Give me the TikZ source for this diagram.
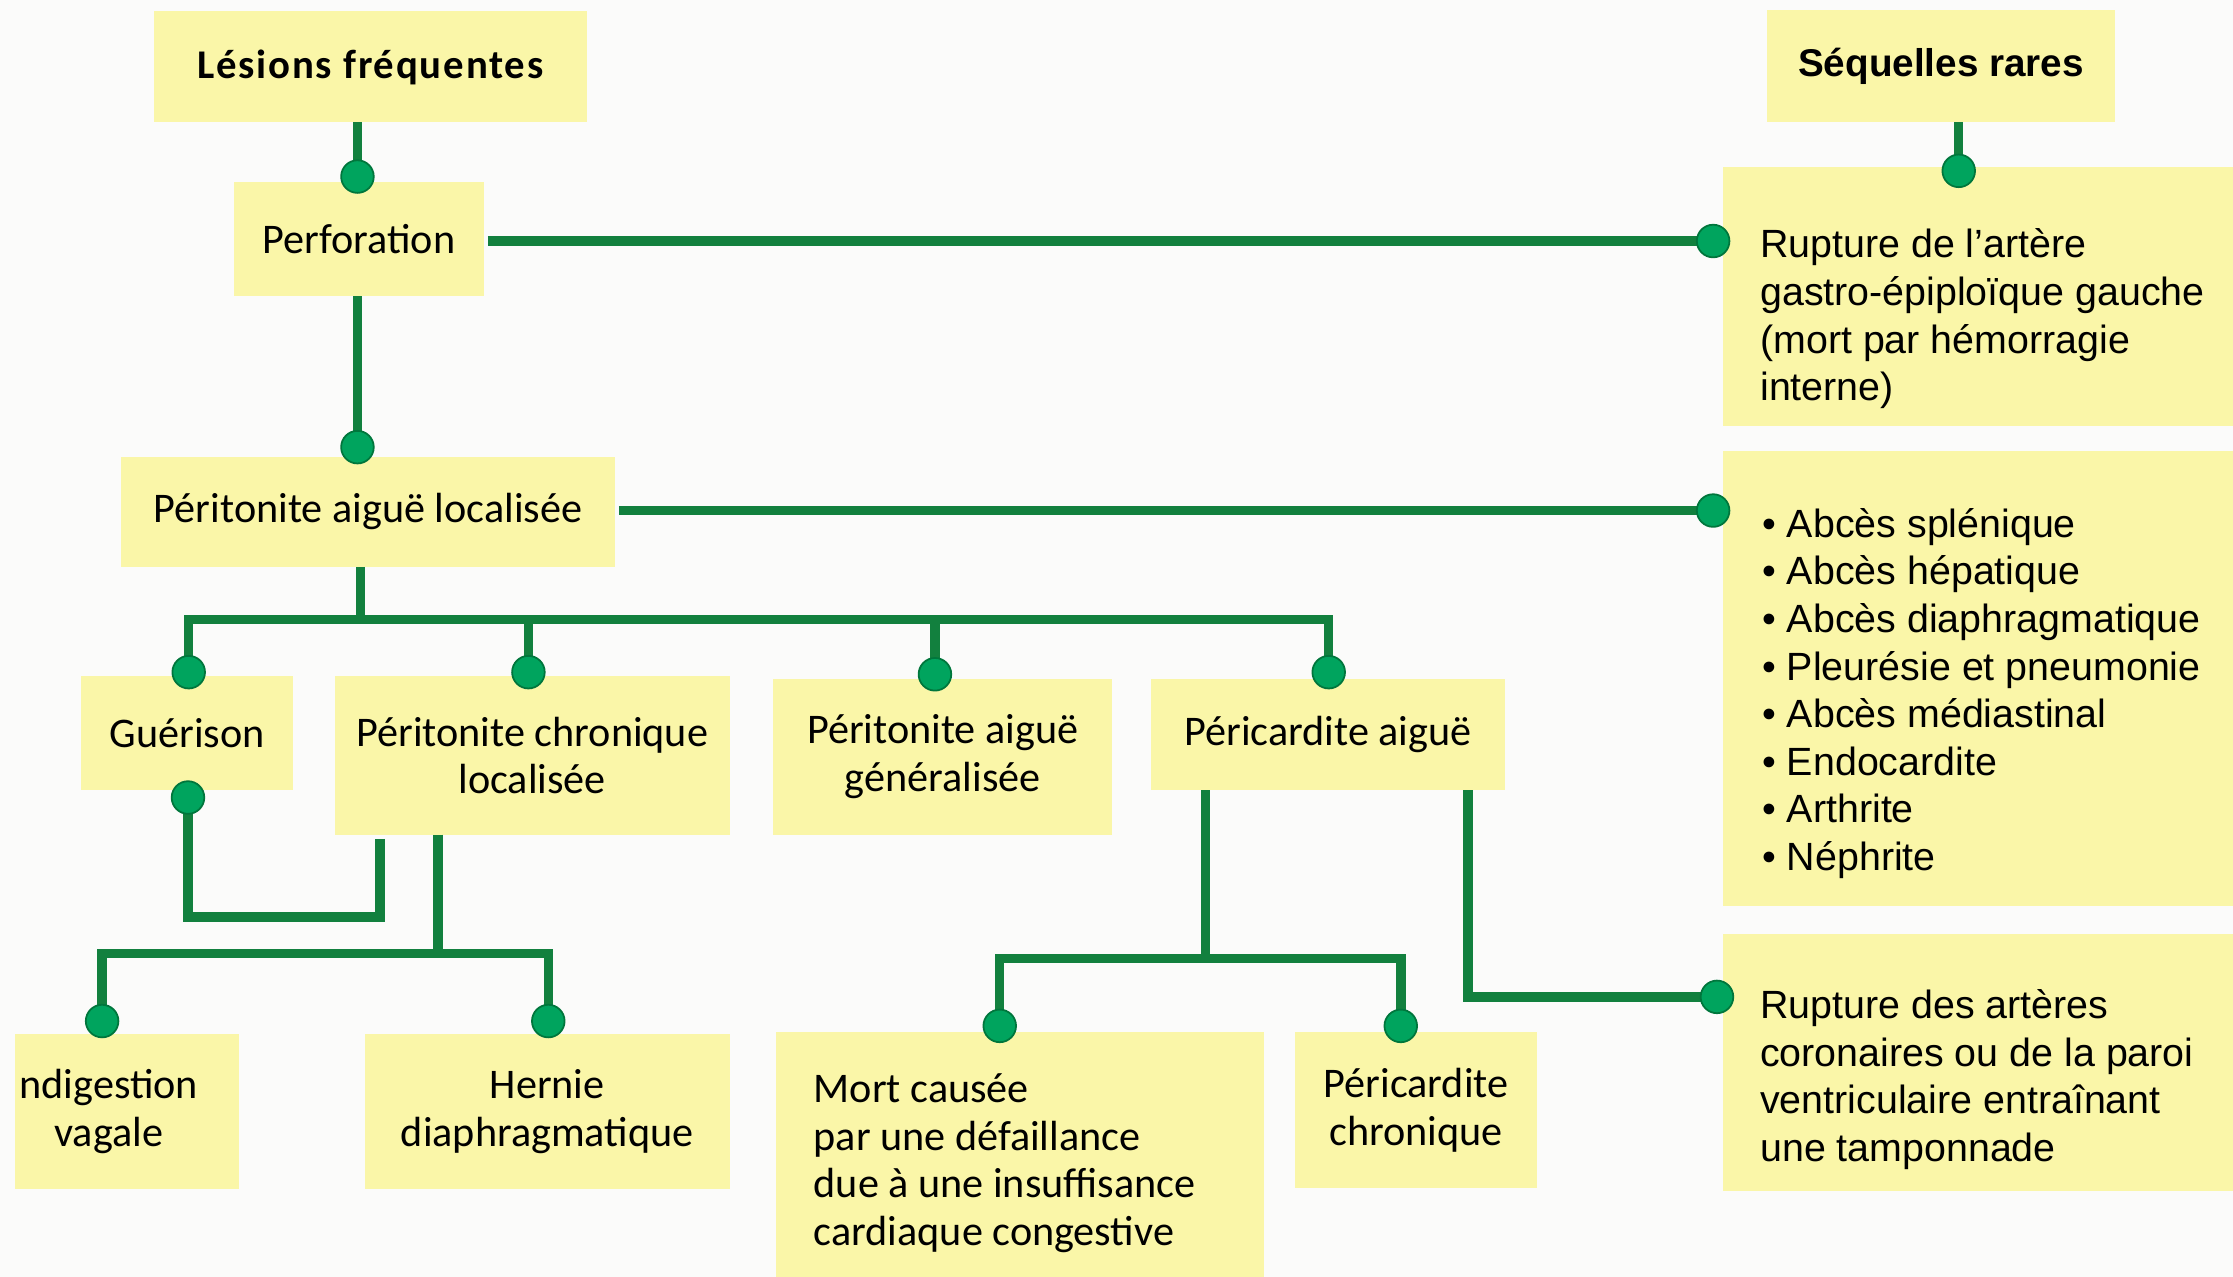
\documentclass[tikz,border=0pt]{standalone}
\usepackage{fontspec}
\setmainfont{Carlito}
\newfontfamily\headf[LetterSpace=4.5]{Carlito}
\newfontfamily\arialf{Liberation Sans}
\usetikzlibrary{calc}
\definecolor{boxy}{RGB}{250,246,168}
\definecolor{lng}{RGB}{18,128,62}
\definecolor{dotg}{RGB}{0,164,94}
\definecolor{dotd}{RGB}{0,118,60}
\definecolor{bgc}{RGB}{251,251,250}
\tikzset{
  bx/.style={fill=boxy, inner sep=0pt, outer sep=0pt},
  lt/.style={font=\fontsize{12}{13.6}\selectfont, align=center, inner sep=0pt},
  lth/.style={font=\headf\bfseries\fontsize{11.6}{13.6}\selectfont, align=center, inner sep=0pt},
  rt/.style={font=\arialf\fontsize{11.2}{13.55}\selectfont, align=left, inner sep=0pt, anchor=west},
  rth/.style={font=\arialf\bfseries\fontsize{11}{13.5}\selectfont, inner sep=0pt},
  ln/.style={draw=lng, line width=0.095cm},
  dt/.style={fill=dotg, draw=dotd, line width=0.5pt},
}
\newcommand\mkbox[5]{\node[bx, minimum width={(#4-#2)*0.4052pt}, minimum height={(#5-#3)*0.4052pt}] (#1) at ({(#2+#4)/2},{(#3+#5)/2}) {};}
\newcommand\dotat[1]{\fill[dt] (#1) circle[radius=0.163cm];}
\begin{document}
\begin{tikzpicture}[x=0.014241cm, y=-0.014241cm]
\fill[bgc] (0,0) rectangle (1568,896.7);
\useasboundingbox (0,0) rectangle (1568,896.7);
% boxes
\mkbox{les}{108}{8}{412}{86}
\mkbox{perf}{164}{127.5}{340}{208}
\mkbox{pal}{85}{321}{432}{398}
\mkbox{gue}{57}{475}{206}{555}
\mkbox{pcl}{235}{475}{512.5}{586}
\mkbox{pag}{543}{476.5}{781}{586}
\mkbox{pca}{808}{476.5}{1057}{555}
\mkbox{ind}{10.8}{726}{168}{835}
\mkbox{her}{256}{726}{512.5}{835}
\mkbox{mor}{545}{724.7}{887.6}{897}
\mkbox{pch}{909.7}{724.7}{1079}{834.5}
\mkbox{seq}{1241}{7}{1485}{86}
\mkbox{ru1}{1209.6}{117.5}{1568}{299.4}
\mkbox{abc}{1209.6}{316.6}{1568}{636.3}
\mkbox{ru2}{1209.6}{656}{1568}{836}
% coordinates
\coordinate (d1) at ($(perf.north)+(-1,-3.5)$);
\coordinate (d2) at ($(ru1.west |- perf.east)+(-6.6,1.5)$);
\coordinate (d3) at ($(perf.south |- pal.north)+(-1,-7)$);
\coordinate (d4) at ($(abc.west |- pal.east)+(-6.6,-1)$);
\coordinate (j1) at ($(pal.south)+(-5.5,37)$);
\coordinate (dg) at ($(gue.north)+(1,-3)$);
\coordinate (dpcl) at ($(pcl.north)+(-2.7,-3)$);
\coordinate (dpag) at ($(pag.north)+(-5.5,-3)$);
\coordinate (dpca) at ($(pca.north)+(0.5,-4.5)$);
\coordinate (dgb) at ($(gue.south)+(0.5,5)$);
\coordinate (k1) at ($(pcl.south west)+(32,3)$);
\coordinate (j2) at ($(pcl.south west)+(72.5,83.5)$);
\coordinate (di) at ($(ind.north)+(-17.7,-9)$);
\coordinate (dh) at ($(her.north)+(0.75,-9)$);
\coordinate (j3) at ($(pca.south west)+(38.5,118)$);
\coordinate (dm) at ($(mor.north)+(-14.3,-4.3)$);
\coordinate (dpc) at ($(pch.north)+(-10.75,-4.3)$);
\coordinate (k2) at ($(pca.south west)+(222.7,0)$);
\coordinate (dr2) at ($(ru2.west)+(-3.9,-46)$);
\coordinate (ks) at ($(seq.south)+(12.4,0)$);
\coordinate (dr1) at ($(ks |- ru1.north)+(0,2.5)$);
% connectors
\draw[ln] (d1 |- les.south) -- (d1);
\draw[ln] ([xshift=1pt]perf.east |- d2) -- (d2);
\draw[ln] (d3 |- perf.south) -- (d3);
\draw[ln] ([xshift=1pt]pal.east |- d4) -- (d4);
\draw[ln] (pal.south -| j1) -- (j1);
\draw[ln] (dg) -- (dg |- j1) -- (dpca |- j1) -- (dpca);
\draw[ln] (dpcl |- j1) -- (dpcl);
\draw[ln] (dpag |- j1) -- (dpag);
\draw[ln] (k1) |- ($(dgb)+(0,84)$) -- (dgb);
\draw[ln] (pcl.south -| j2) -- (j2);
\draw[ln] (di) |- (j2) -| (dh);
\draw[ln] (pca.south -| j3) -- (j3);
\draw[ln] (dm) |- (j3) -| (dpc);
\draw[ln] (k2) |- (dr2);
\draw[ln] (ks) -- (dr1);
% dots
\dotat{d1}\dotat{d2}\dotat{d3}\dotat{d4}
\dotat{dg}\dotat{dpcl}\dotat{dpag}\dotat{dpca}
\dotat{dgb}\dotat{di}\dotat{dh}\dotat{dm}\dotat{dpc}
\dotat{dr2}\dotat{dr1}
% texts
\node[lth] (tles) at (les.center) {Lésions fréquentes};
\node[lt] (tperf) at (perf.center) {Perforation};
\node[lt] (tpal) at (pal.center) {Péritonite aiguë localisée};
\node[lt] (tgue) at (gue.center) {Guérison};
\node[lt] (tpcl) at (pcl.center) {Péritonite chronique\\localisée};
\node[lt] (tpag) at (pag.center) {Péritonite aiguë\\généralisée};
\node[lt] (tpca) at (pca.center) {Péricardite aiguë};
\node[lt] (tind) at ($(ind.center)+(-13,0)$) {ndigestion\\vagale};
\node[lt] (ther) at (her.center) {Hernie\\diaphragmatique};
\node[lt, anchor=west, align=left] (tmor) at ($(mor.west)+(26,6)$) {Mort causée\\par une défaillance\\due à une insuffisance\\cardiaque congestive};
\node[lt] (tpch) at (pch.center) {Péricardite\\chronique};
\node[rth] (tseq) at (seq.center) {Séquelles rares};
\node[rt] (tru1) at ($(ru1.west)+(26,15.5)$) {Rupture de l’artère\\gastro-épiploïque gauche\\(mort par hémorragie\\interne)};
\node[rt] (tabc) at ($(abc.west)+(27.4,10.5)$) {• Abcès splénique\\• Abcès hépatique\\• Abcès diaphragmatique\\• Pleurésie et pneumonie\\• Abcès médiastinal\\• Endocardite\\• Arthrite\\• Néphrite};
\node[rt] (tru2) at ($(ru2.west)+(26,12)$) {Rupture des artères\\coronaires ou de la paroi\\ventriculaire entraînant\\une tamponnade};
\end{tikzpicture}
\end{document}
